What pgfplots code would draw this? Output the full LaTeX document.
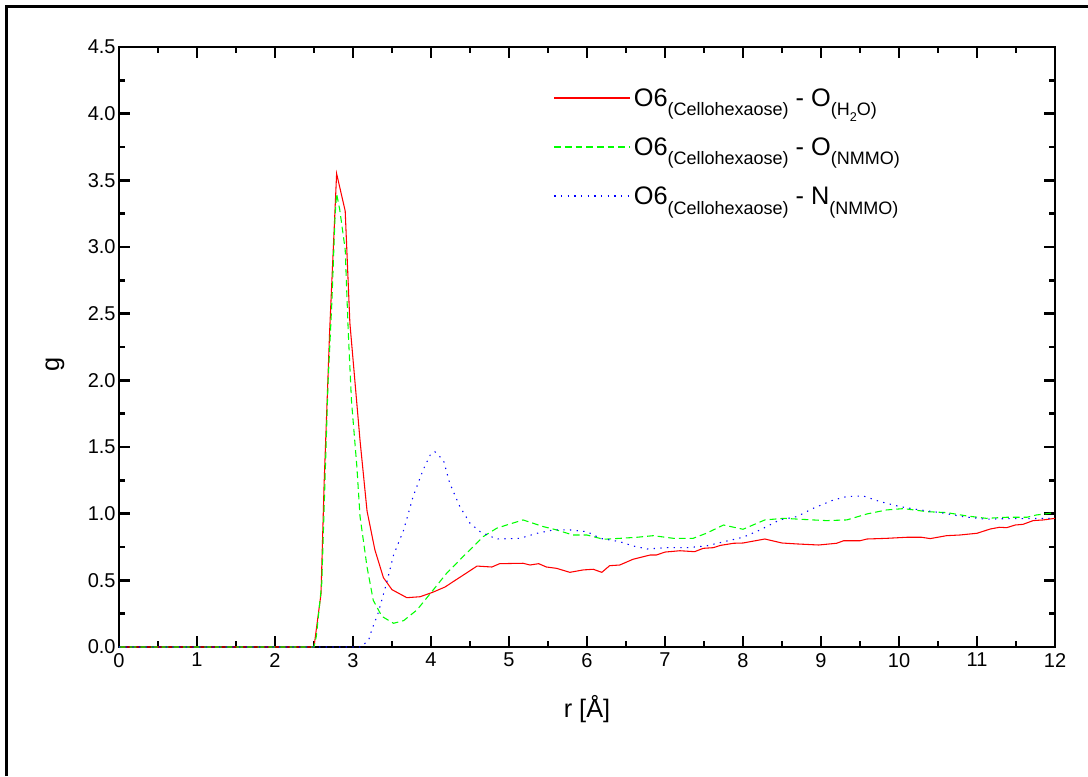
\documentclass[border=0pt]{standalone}
\usepackage{fontspec}
\setmainfont{Liberation Sans}
\usepackage{pgfplots}
\pgfplotsset{compat=1.18}

% subscript helpers for the legend
\newcommand\sub[1]{\raisebox{-7pt}{\fontsize{13.5pt}{13.5pt}\selectfont #1}}
\newcommand\subsub[1]{\raisebox{-4pt}{\fontsize{9.5pt}{9.5pt}\selectfont #1}}

\begin{document}
\begin{tikzpicture}
% page size: 1088 x 776 px at 0.75pt/px, axis lower left at (119,647) px
\useasboundingbox (-89.25pt,-96.75pt) rectangle (726.75pt,485.25pt);
\draw[line width=2.25pt] (-84pt,-96.75pt) -- (-84pt,480pt) -- (726.75pt,480pt);

\begin{axis}[
    scale only axis,
    width=702pt, height=450pt,
    xmin=0, xmax=12, ymin=0, ymax=4.5,
    xtick={0,1,...,12},
    ytick={0,0.5,...,4.5},
    minor x tick num=1,
    minor y tick num=1,
    tick align=inside,
    major tick length=8pt,
    minor tick length=4.5pt,
    tick style={black, line width=1.8pt},
    axis line style={line width=2.2pt},
    font=\fontsize{15pt}{17pt}\selectfont,
    /pgf/number format/assume math mode=true,
    yticklabel style={/pgf/number format/fixed, /pgf/number format/fixed zerofill, /pgf/number format/precision=1, xshift=1pt},
    xticklabel style={/pgf/number format/fixed, yshift=-1pt},
    xlabel={r [Å]},
    ylabel={g},
    label style={font=\fontsize{19pt}{21pt}\selectfont},
    xlabel style={at={(axis description cs:0.5,0)}, anchor=north, yshift=-33pt},
    ylabel style={at={(axis description cs:-0.0684,0.4717)}, anchor=center},
    legend style={at={(axis description cs:0.4637,0.935)}, anchor=north west, draw=none, fill=none,
        inner sep=0pt, row sep=18pt, font=\fontsize{19pt}{21pt}\selectfont},
    legend cell align=left,
    legend image code/.code={\draw[#1, line width=1.4pt] (0pt,0.4pt) -- (57pt,0.4pt);},
]

\addplot[red, line width=0.8pt] coordinates {
    (0,0) (2.5,0) (2.59,0.40) (2.63,1.23) (2.70,2.36) (2.79,3.55) (2.90,3.27)
    (2.96,2.43) (3.09,1.55) (3.18,1.02) (3.28,0.73) (3.39,0.52) (3.50,0.43)
    (3.69,0.37) (3.86,0.377) (4.02,0.41) (4.18,0.45) (4.31,0.50) (4.46,0.557)
    (4.59,0.607) (4.78,0.60) (4.88,0.625) (5.18,0.628) (5.27,0.615) (5.38,0.625)
    (5.48,0.60) (5.61,0.59) (5.78,0.56) (5.95,0.578) (6.08,0.583) (6.19,0.56)
    (6.29,0.61) (6.42,0.615) (6.59,0.658) (6.81,0.69) (6.89,0.69) (7.0,0.712)
    (7.19,0.722) (7.38,0.715) (7.49,0.74) (7.62,0.745) (7.71,0.762) (7.88,0.778)
    (8.0,0.78) (8.28,0.81) (8.50,0.78) (8.69,0.773) (8.97,0.765) (9.20,0.778)
    (9.29,0.797) (9.5,0.797) (9.59,0.81) (9.84,0.815) (10.1,0.823) (10.29,0.823)
    (10.4,0.813) (10.61,0.835) (10.78,0.84) (11.0,0.853) (11.17,0.885)
    (11.29,0.898) (11.38,0.895) (11.49,0.915) (11.59,0.92) (11.72,0.948)
    (11.85,0.953) (12.0,0.965)
};
\addlegendentry{O6\sub{(Cellohexaose)} - O\sub{(H\subsub{2}O)}}

\addplot[green, line width=0.8pt, dash pattern=on 5pt off 3pt] coordinates {
    (0,0) (2.50,0) (2.53,0.08) (2.60,0.48) (2.64,1.23) (2.68,1.98) (2.73,2.6)
    (2.77,3.23) (2.79,3.40) (2.83,3.28) (2.90,2.98) (2.94,2.35) (2.98,1.85)
    (3.05,1.35) (3.09,0.98) (3.18,0.60) (3.26,0.35) (3.37,0.23) (3.52,0.178)
    (3.65,0.198) (3.82,0.278) (3.99,0.40) (4.20,0.553) (4.41,0.677) (4.67,0.828)
    (4.84,0.89) (4.97,0.915) (5.18,0.953) (5.44,0.903) (5.61,0.878) (5.82,0.84)
    (6.0,0.84) (6.21,0.808) (6.42,0.815) (6.64,0.823) (6.85,0.835) (7.11,0.815)
    (7.36,0.815) (7.53,0.853) (7.75,0.915) (8.0,0.883) (8.28,0.953) (8.52,0.965)
    (8.90,0.953) (9.07,0.948) (9.33,0.953) (9.59,0.998) (9.84,1.028)
    (10.06,1.038) (10.36,1.015) (10.61,1.008) (10.87,0.983) (11.12,0.965)
    (11.38,0.973) (11.64,0.973) (11.76,0.99) (12.0,1.008)
};
\addlegendentry{O6\sub{(Cellohexaose)} - O\sub{(NMMO)}}

\addplot[blue, line width=0.8pt, dash pattern=on 1pt off 4pt] coordinates {
    (0,0) (3.1,0) (3.2,0.05) (3.24,0.128) (3.32,0.25) (3.43,0.478) (3.52,0.69)
    (3.65,0.878) (3.77,1.128) (3.90,1.33) (3.99,1.44) (4.05,1.465) (4.16,1.40)
    (4.24,1.228) (4.37,1.053) (4.5,0.928) (4.63,0.865) (4.84,0.81) (5.14,0.815)
    (5.36,0.853) (5.57,0.878) (5.78,0.878) (6.0,0.865) (6.17,0.815) (6.42,0.79)
    (6.59,0.758) (6.77,0.735) (7.02,0.745) (7.28,0.745) (7.53,0.758) (7.71,0.783)
    (8.0,0.823) (8.22,0.878) (8.47,0.953) (8.69,0.978) (8.90,1.04) (9.16,1.103)
    (9.33,1.128) (9.54,1.133) (9.76,1.09) (10.01,1.053) (10.27,1.028)
    (10.53,1.008) (10.82,0.978) (11.12,0.958) (11.38,0.963) (11.64,0.963)
    (12.0,0.965)
};
\addlegendentry{O6\sub{(Cellohexaose)} - N\sub{(NMMO)}}

\end{axis}
\end{tikzpicture}
\end{document}
